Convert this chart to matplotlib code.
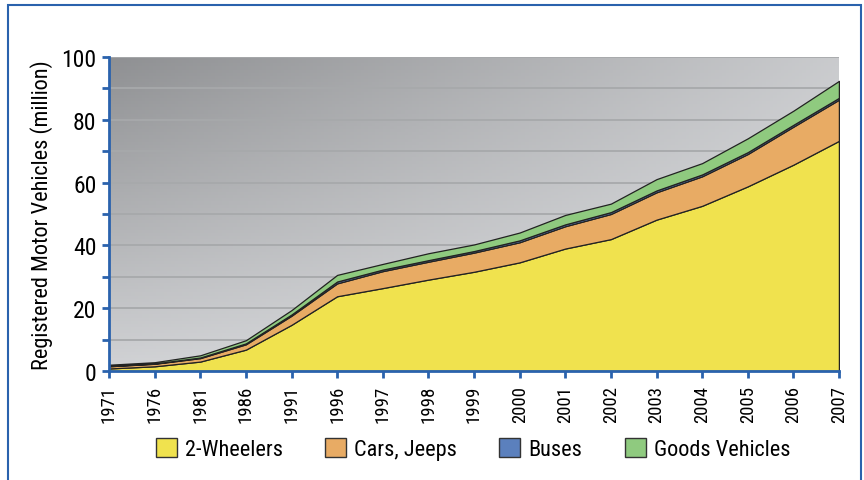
import matplotlib.pyplot as plt
import numpy as np
from matplotlib.patches import Rectangle, Patch

years = ["1971", "1976", "1981", "1986", "1991", "1996", "1997", "1998", "1999",
         "2000", "2001", "2002", "2003", "2004", "2005", "2006", "2007"]
twoWheelers = [0.8, 1.5, 3.0, 6.8, 14.7, 23.8, 26.4, 29.1, 31.6, 34.6, 39.0, 42.0, 48.2, 52.6, 58.8, 65.7, 73.3]
carsJeeps = [0.7, 0.8, 1.1, 1.7, 2.9, 4.1, 5.4, 5.7, 6.1, 6.4, 7.1, 8.0, 8.7, 9.4, 10.3, 12.1, 13.1]
buses = [0.1, 0.1, 0.2, 0.3, 0.4, 0.6, 0.5, 0.5, 0.5, 0.6, 0.6, 0.6, 0.6, 0.6, 0.6, 0.6, 0.6]
goods = [0.4, 0.4, 0.7, 1.0, 1.4, 2.1, 1.8, 2.2, 2.1, 2.5, 3.0, 2.7, 3.6, 3.6, 4.4, 4.5, 5.4]

labels = ["2-Wheelers", "Cars, Jeeps", "Buses", "Goods Vehicles"]
colors = ["#f0e24e", "#e8ab64", "#5b80bd", "#8fca7f"]
blue = "#2a62ad"

plt.rcParams['font.family'] = ['Roboto Condensed', 'DejaVu Sans']

fig = plt.figure(figsize=(8.64, 4.81), dpi=100)
ax = fig.add_axes([109/864, 1 - 372/481, 730/864, 314/481])

x = np.arange(len(years))

# grey diagonal gradient background: dark top-left, light bottom-right
gx, gy = np.meshgrid(np.linspace(0, 1, 200), np.linspace(0, 1, 100))
g = 0.56 + 0.23 * gx + 0.26 * gy - 0.16 * gx * gy
rgb = np.dstack([g, g + 0.005, g + 0.015]).clip(0, 1)
ax.imshow(rgb, extent=[0, 16, 0, 100], aspect="auto", origin="upper", zorder=0)

for yv in range(10, 101, 10):
    ax.axhline(yv, color="#a7a9ab", lw=1.3, zorder=1)

ax.stackplot(x, twoWheelers, carsJeeps, buses, goods, colors=colors,
             edgecolor="#222222", linewidth=0.9, zorder=2)
total = np.array(twoWheelers) + np.array(carsJeeps) + np.array(buses) + np.array(goods)
ax.plot([16, 16], [0, total[-1]], color="#222222", lw=0.9, zorder=3)

ax.set_xlim(0, 16)
ax.set_ylim(0, 100)
ax.set_xticks(x)
ax.set_xticklabels(years, rotation=90, fontsize=13.5)
ax.set_yticks(range(0, 101, 20))
ax.set_yticks(range(10, 100, 20), minor=True)
ax.tick_params(axis="y", labelsize=17, color=blue, width=2, length=5, pad=4)
ax.tick_params(axis="y", which="minor", color=blue, width=2, length=5)
ax.tick_params(axis="x", color=blue, width=2, length=5, pad=5)
for s in ["top", "right"]:
    ax.spines[s].set_visible(False)
for s in ["left", "bottom"]:
    ax.spines[s].set_color(blue)
    ax.spines[s].set_linewidth(2)
    ax.spines[s].set_zorder(5)
ax.set_ylabel("Registered Motor Vehicles (million)", fontsize=16, labelpad=6)

handles = [Patch(facecolor=c, edgecolor="#333333", label=l) for c, l in zip(colors, labels)]
fig.legend(handles=handles, loc="center", bbox_to_anchor=(473/864, 1 - 450/481), ncol=4,
           frameon=False, fontsize=16, handlelength=0.95, handleheight=0.95,
           columnspacing=1.9, handletextpad=0.36)

fig.patches.append(Rectangle((8/864, -0.05), 853/864, 1 - 6/481 + 0.05, transform=fig.transFigure,
                             fill=False, edgecolor=blue, linewidth=1.5))

plt.savefig("out.png")
